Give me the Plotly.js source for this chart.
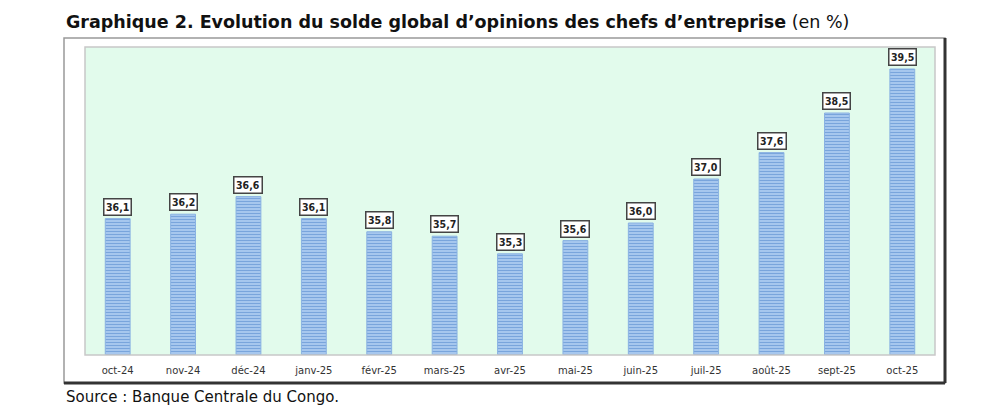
<!DOCTYPE html>
<html><head><meta charset="utf-8">
<script src="https://cdn.plot.ly/plotly-3.0.1.min.js"></script>
<style>body{margin:0;background:#fff}#c{width:1000px;height:415px}</style>
</head><body><div id="c"></div>
<script>
const categories = ["oct-24","nov-24","déc-24","janv-25","févr-25","mars-25","avr-25","mai-25","juin-25","juil-25","août-25","sept-25","oct-25"];
const values = [36.1,36.2,36.6,36.1,35.8,35.7,35.3,35.6,36.0,37.0,37.6,38.5,39.5];
const labels = ["36,1","36,2","36,6","36,1","35,8","35,7","35,3","35,6","36,0","37,0","37,6","38,5","39,5"];

const trace = {
  type:'bar', x:categories, y:values,
  marker:{color:'#a3c4ec', line:{color:'#8ab2e2', width:1},
    pattern:{shape:'-', fgcolor:'#79a5dc', bgcolor:'#a6c7ee', size:3, solidity:0.35}},
  hoverinfo:'skip'
};
const annotations = categories.map((c,i)=>({
  x:c, y:values[i], text:'<b>'+labels[i]+'</b>', showarrow:false, yanchor:'bottom', yshift:3,
  font:{family:'DejaVu Sans Condensed, Tahoma, sans-serif', size:10.5, color:'#222'},
  bgcolor:'#ffffff', bordercolor:'#444', borderwidth:1.5, borderpad:1.5
}));
annotations.push({xref:'paper', yref:'paper', x:-21/850, y:1+25/308, xanchor:'left', yanchor:'middle', showarrow:false,
  text:'<b>Graphique 2. Evolution du solde global d’opinions des chefs d’entreprise</b> (en %)',
  font:{family:'DejaVu Sans, Tahoma, sans-serif', size:17.5, color:'#111'}});
annotations.push({xref:'paper', yref:'paper', x:-21/850, y:-42/308, xanchor:'left', yanchor:'middle', showarrow:false,
  text:'Source : Banque Centrale du Congo.',
  font:{family:'DejaVu Sans, Tahoma, sans-serif', size:15, color:'#111'}});

const shapes = [
  {type:'rect', xref:'paper', yref:'paper', x0:-21/850, x1:1+10/850, y0:-28/308, y1:1+9/308, line:{color:'#999', width:1.5}, fillcolor:'rgba(0,0,0,0)', layer:'below'},
  {type:'line', xref:'paper', yref:'paper', x0:1+10/850, x1:1+10/850, y0:-28/308, y1:1+9/308, line:{color:'#333', width:3}},
  {type:'line', xref:'paper', yref:'paper', x0:-21/850, x1:1+10/850, y0:-28/308, y1:-28/308, line:{color:'#333', width:3}},
  {type:'rect', xref:'paper', yref:'paper', x0:0, x1:1, y0:0, y1:1, line:{color:'#c8c8c8', width:1.5}, fillcolor:'rgba(0,0,0,0)'}
];

const layout = {
  width:1000, height:415,
  margin:{l:85, r:65, t:47, b:60},
  paper_bgcolor:'#ffffff', plot_bgcolor:'#e2fbec',
  bargap:0.62, showlegend:false,
  xaxis:{showgrid:false, zeroline:false, showline:false, ticks:'', ticklabelstandoff:8,
    tickfont:{family:'DejaVu Sans, Tahoma, sans-serif', size:10, color:'#333'}},
  yaxis:{range:[33,40], showgrid:false, zeroline:false, showticklabels:false, showline:false, ticks:''},
  annotations, shapes
};
Plotly.newPlot('c',[trace],layout,{displayModeBar:false, staticPlot:true});
</script></body></html>
